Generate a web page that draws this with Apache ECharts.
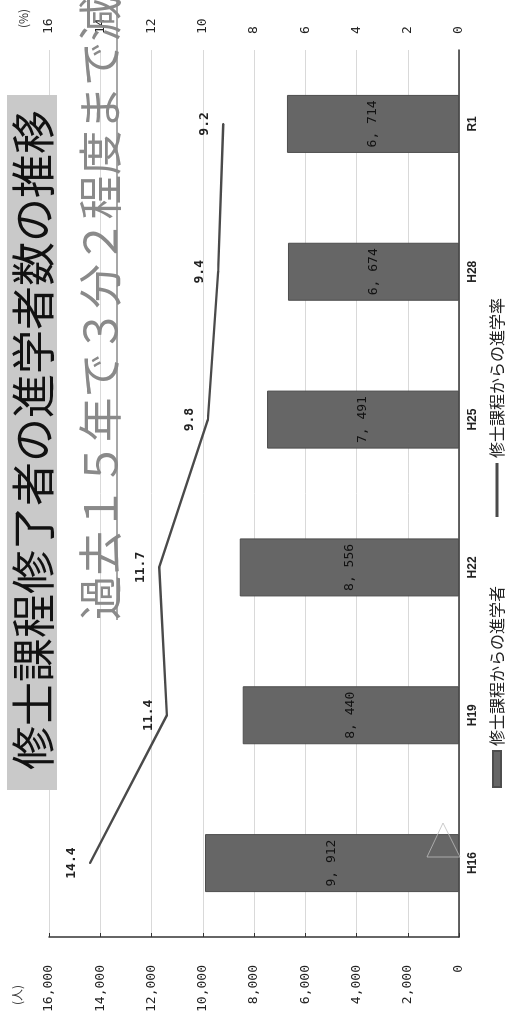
<!DOCTYPE html>
<html>
<head>
<meta charset="utf-8">
<script src="https://cdn.jsdelivr.net/npm/echarts@6/dist/echarts.min.js"></script>
<style>
  html, body { margin: 0; padding: 0; width: 507px; height: 1025px; overflow: hidden; background: #fff; }
  /* the source figure is a landscape chart turned a quarter turn to the left */
  #chart {
    position: absolute; left: 0; top: 0;
    width: 1025px; height: 507px;
    transform-origin: 0 0;
    transform: translateY(1025px) rotate(-90deg);
  }
</style>
</head>
<body>
<div id="chart"></div>
<script>
const years = ['H16', 'H19', 'H22', 'H25', 'H28', 'R1']
const students = [9912, 8440, 8556, 7491, 6674, 6714]
const rates = [14.4, 11.4, 11.7, 9.8, 9.4, 9.2]

const title = '修士課程修了者の進学者数の推移'
const subtitle = '過去１５年で３分２程度まで減少'
const barName = '修士課程からの進学者'
const lineName = '修士課程からの進学率'

const numFont = 'DejaVu Sans Mono'
const jpFont = 'Noto Sans CJK JP'

const withComma = v => v.toLocaleString('en-US')

const chart = echarts.init(document.getElementById('chart'), null, { width: 1025, height: 507 })

const option = {
  animation: false,
  backgroundColor: '#fff',
  grid: { left: 88, right: 50, top: 49, bottom: 48 },
  legend: [
    {
      data: [{ name: barName, icon: 'rect' }],
      left: 232, top: 484,
      itemWidth: 36, itemHeight: 8,
      textStyle: { fontFamily: jpFont, fontSize: 16, color: '#222' }
    },
    {
      data: [{ name: lineName, icon: 'rect' }],
      left: 503, top: 484,
      itemWidth: 54, itemHeight: 3,
      textStyle: { fontFamily: jpFont, fontSize: 16, color: '#222' }
    }
  ],
  xAxis: {
    type: 'category',
    data: years,
    axisLine: { lineStyle: { color: '#333', width: 1.5 } },
    axisTick: { inside: true, length: 4, lineStyle: { color: '#333' } },
    axisLabel: { color: '#222', fontFamily: 'Liberation Sans', fontSize: 12, fontWeight: 'bold', margin: 8 }
  },
  yAxis: [
    {
      type: 'value',
      min: 0, max: 16000, interval: 2000,
      name: '(人)',
      nameLocation: 'end',
      nameGap: 26,
      nameTextStyle: { fontFamily: jpFont, fontSize: 12, color: '#333', align: 'right', padding: [0, 48, 0, 0] },
      axisLine: { show: true, lineStyle: { color: '#333', width: 1.5 } },
      axisTick: { show: true, inside: true, length: 4, lineStyle: { color: '#333' } },
      axisLabel: { formatter: withComma, fontFamily: numFont, fontSize: 13, color: '#222', margin: 28 },
      splitLine: { lineStyle: { color: '#d9d9d9', width: 1 } }
    },
    {
      type: 'value',
      min: 0, max: 16, interval: 2,
      name: '(%)',
      nameLocation: 'end',
      nameGap: 20,
      nameTextStyle: { fontFamily: jpFont, fontSize: 12, color: '#333', align: 'left', padding: [0, 0, 0, 22] },
      axisLine: { show: false },
      axisTick: { show: false },
      axisLabel: { fontFamily: numFont, fontSize: 13, color: '#222', margin: 16 },
      splitLine: { show: false }
    }
  ],
  series: [
    {
      name: barName,
      type: 'bar',
      data: students,
      barWidth: 58,
      itemStyle: { color: '#666666', borderColor: '#4d4d4d', borderWidth: 1 },
      label: {
        show: true, position: 'inside',
        formatter: p => withComma(p.value).replace(',', ', '),
        fontFamily: numFont, fontSize: 13, color: '#111'
      },
      z: 2
    },
    {
      name: lineName,
      type: 'line',
      yAxisIndex: 1,
      data: rates,
      symbol: 'circle',
      symbolSize: 2,
      lineStyle: { color: '#4a4a4a', width: 2.5 },
      itemStyle: { color: '#4a4a4a' },
      label: {
        show: true, position: 'top', distance: 11,
        formatter: p => p.value.toFixed(1),
        fontFamily: numFont, fontSize: 13, fontWeight: 'bold', color: '#222'
      },
      z: 3
    }
  ],
  graphic: [
    {
      type: 'rect', z: 10,
      shape: { x: 235, y: 7, width: 695, height: 50 },
      style: { fill: '#c9c9c9' }
    },
    {
      type: 'text', z: 11, x: 585, y: 33,
      style: { text: title, fontFamily: jpFont, fontSize: 44, fill: '#111', align: 'center', verticalAlign: 'middle' }
    },
    {
      type: 'text', z: 11, x: 405, y: 100,
      style: { text: subtitle, fontFamily: jpFont, fontSize: 44.5, fill: '#8a8a8a', align: 'left', verticalAlign: 'middle' }
    },
    {
      type: 'line', z: 11,
      shape: { x1: 405, y1: 117, x2: 1025, y2: 117 },
      style: { stroke: '#8a8a8a', lineWidth: 1.5 }
    },
    {
      type: 'polygon', z: 11,
      shape: { points: [[202, 443], [168, 427], [168, 460]] },
      style: { fill: 'none', stroke: '#bdbdbd', lineWidth: 0.8 }
    }
  ]
}

chart.setOption(option)
</script>
</body>
</html>
